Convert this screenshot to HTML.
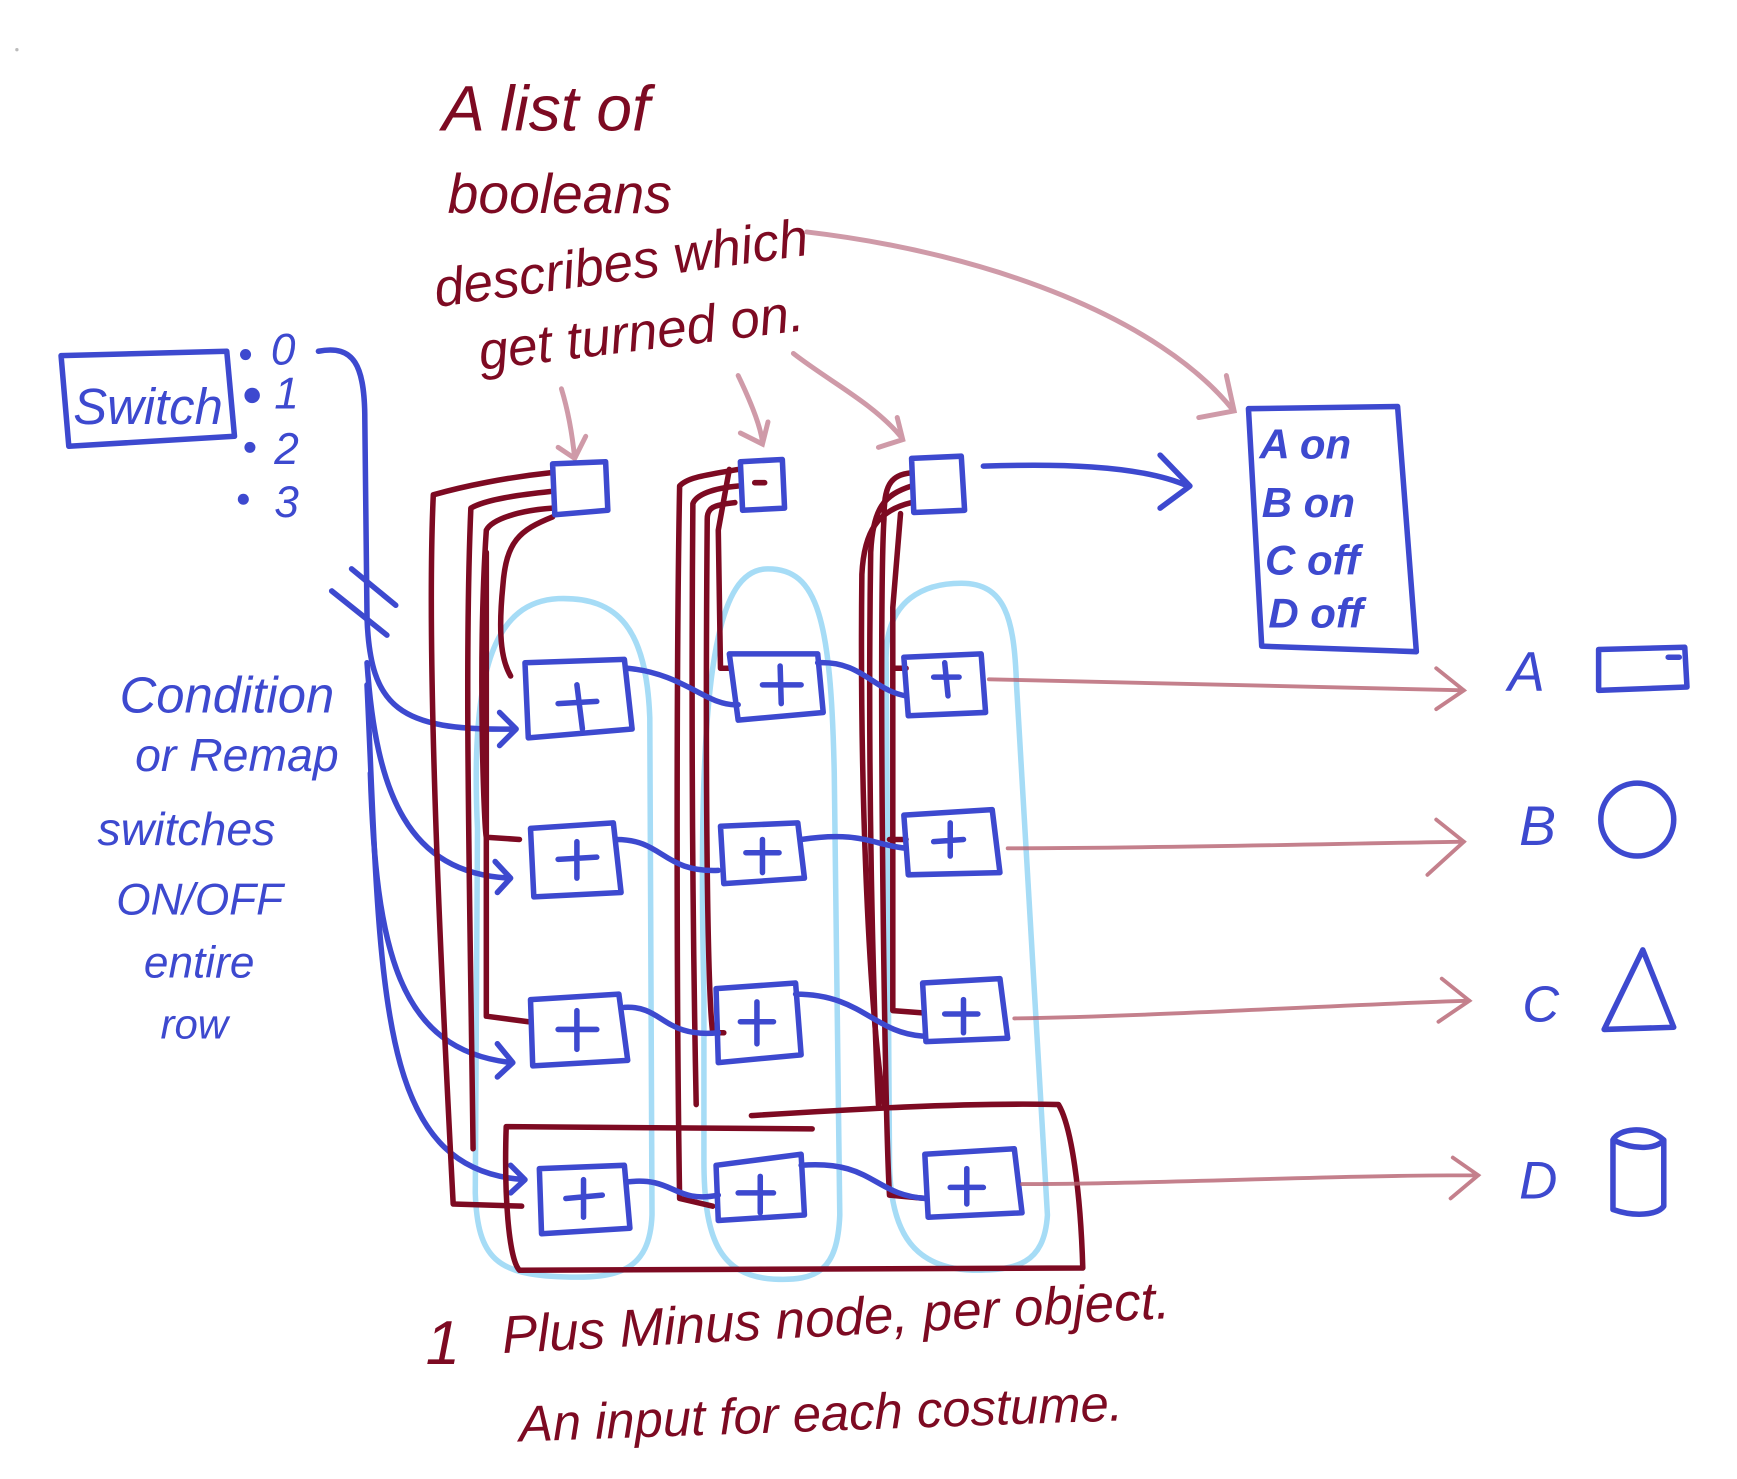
<!DOCTYPE html>
<html><head><meta charset="utf-8"><style>
html,body{margin:0;padding:0;background:#fff;}
svg{display:block}
.b{fill:none;stroke:#3d49cf;stroke-width:5;stroke-linecap:round;stroke-linejoin:round}
.r{fill:none;stroke:#7d0a22;stroke-width:5;stroke-linecap:round;stroke-linejoin:round}
.lb{fill:none;stroke:#a6dcf6;stroke-width:5}
.p{fill:none;stroke:#cf9aa8;stroke-width:4.5;stroke-linecap:round}
.pr{fill:none;stroke:#b5606f;stroke-width:3.5;stroke-linecap:round;opacity:.8}
.tb{fill:#3d49cf;font-family:"Liberation Sans",sans-serif;font-style:italic}
.tr{fill:#7d0a22;font-family:"Liberation Sans",sans-serif;font-style:italic}
</style></head><body>
<svg width="1737" height="1479" viewBox="0 0 1572 1339" xmlns="http://www.w3.org/2000/svg">
<path class="lb" d="M432,750 C425,600 450,545 505,542 C560,540 585,570 588,650 L590,1100 C588,1150 560,1158 510,1156 C450,1154 432,1140 430,1080 Z"/>
<path class="lb" d="M637,900 C630,600 650,515 695,515 C740,515 752,560 755,700 L760,1100 C758,1150 740,1160 700,1158 C650,1155 637,1120 637,1050 Z"/>
<path class="lb" d="M802,600 C800,540 840,528 870,528 C910,528 918,560 920,620 L948,1100 C945,1145 920,1150 880,1150 C830,1148 805,1120 805,1050 Z"/>
<text class="tr" x="400" y="118" font-size="58">A  list of</text>
<text class="tr" x="405" y="193" font-size="50">booleans</text>
<text class="tr" x="395" y="278" font-size="48" transform="rotate(-8 395 278)">describes which</text>
<text class="tr" x="435" y="335" font-size="48" transform="rotate(-7 435 335)">get turned on.</text>
<path class="p" d="M508,352 C515,375 518,395 520,415 M505,405 L520,415 L530,395"/>
<path class="p" d="M668,340 C680,365 688,385 690,400 M670,392 L690,402 L695,382"/>
<path class="p" d="M718,320 C750,345 790,365 815,395 M795,405 L817,398 L812,378"/>
<path class="p" d="M730,210 C900,230 1050,290 1115,370 M1085,378 L1117,372 L1110,340"/>
<path class="b" d="M55,322 L205,318 L212,395 L62,404 Z"/>
<text class="tb" x="66" y="384" font-size="46">Switch</text>
<circle cx="222" cy="321" r="5" fill="#3d49cf"/><circle cx="228" cy="358" r="7" fill="#3d49cf"/>
<circle cx="226" cy="405" r="5" fill="#3d49cf"/><circle cx="220" cy="452" r="5" fill="#3d49cf"/>
<text class="tb" x="245" y="330" font-size="40">0</text>
<text class="tb" x="248" y="370" font-size="40">1</text>
<text class="tb" x="248" y="420" font-size="40">2</text>
<text class="tb" x="248" y="468" font-size="40">3</text>
<path class="b" d="M288,318 C320,312 330,330 330,380 L332,560 C335,640 360,662 465,660 M452,645 L467,660 L452,675"/>
<path class="b" d="M332,600 C340,720 370,790 460,795 M448,780 L462,795 L450,808"/>
<path class="b" d="M335,700 C340,860 360,950 462,962 M450,945 L464,962 L450,975"/>
<path class="b" d="M332,620 C345,900 340,1060 475,1068 M462,1055 L475,1068 L462,1080"/>
<path class="b" d="M300,535 L350,575 M318,515 L358,548"/>
<text class="tb" x="108" y="645" font-size="46">Condition</text>
<text class="tb" x="122" y="698" font-size="42">or Remap</text>
<text class="tb" x="88" y="765" font-size="42">switches</text>
<text class="tb" x="105" y="828" font-size="40">ON/OFF</text>
<text class="tb" x="130" y="885" font-size="40">entire</text>
<text class="tb" x="145" y="940" font-size="38">row</text>
<path class="r" d="M498,428 C460,432 420,440 392,448 C385,600 400,900 410,1090 L472,1092"/>
<path class="r" d="M498,445 C470,448 440,452 426,460 C420,600 425,800 428,1040"/>
<path class="r" d="M500,460 C470,462 445,470 440,480 C432,600 438,750 440,758 L470,760"/>
<path class="r" d="M500,468 C470,480 458,490 455,530 C450,580 455,600 462,612"/>
<path class="r" d="M440,500 L440,920 L478,925"/>
<path class="r" d="M668,425 C640,430 622,432 615,440 C612,600 612,900 615,1085 L645,1092"/>
<path class="r" d="M668,440 C645,442 630,448 627,456 C625,700 628,900 630,1000"/>
<path class="r" d="M665,455 C645,457 640,460 640,470 C638,700 640,900 645,935 L655,935"/>
<path class="r" d="M660,425 L650,480 L652,605 L660,605"/>
<path class="r" d="M825,428 C805,430 800,440 800,470 C795,550 800,1000 805,1082 L838,1085"/>
<path class="r" d="M825,440 C800,448 790,460 788,500 C785,700 790,900 795,1000"/>
<path class="r" d="M825,455 C795,462 782,480 780,520 C778,700 785,900 800,1000"/>
<path class="r" d="M815,465 L808,550 L808,915 L835,917"/>
<path class="r" d="M810,605 L820,605 M805,760 L820,760"/>
<path class="r" d="M458,1020 L735,1022 M680,1010 C760,1005 870,998 958,1000 C970,1020 978,1080 980,1148 L470,1150 C460,1140 456,1080 458,1020"/>
<path class="b" d="M500,420 L548,418 L550,462 L502,466 Z"/>
<path class="b" d="M670,418 L708,416 L710,460 L672,462 Z"/>
<path class="r" d="M683,437 L692,437"/>
<path class="b" d="M825,415 L870,413 L873,462 L827,464 Z"/>
<g class="b">
<path d="M475,600 L565,597 L572,660 L478,668 Z"/><path d="M505,637 L540,635 M522,620 L527,660"/>
<path d="M660,592 L740,592 L745,645 L668,652 Z"/><path d="M690,620 L725,620 M706,603 L707,637"/>
<path d="M818,595 L888,592 L892,645 L822,648 Z"/><path d="M845,613 L868,613 M855,600 L858,630"/>
<path d="M480,750 L555,745 L562,808 L483,812 Z"/><path d="M505,778 L540,776 M522,762 L522,795"/>
<path d="M652,748 L722,745 L728,795 L655,800 Z"/><path d="M675,772 L705,772 M690,760 L690,790"/>
<path d="M818,738 L898,733 L905,790 L822,792 Z"/><path d="M845,762 L872,760 M860,745 L860,775"/>
<path d="M480,905 L560,900 L568,960 L482,965 Z"/><path d="M505,932 L540,932 M522,915 L522,950"/>
<path d="M648,895 L720,890 L725,955 L650,962 Z"/><path d="M670,925 L700,925 M685,907 L685,945"/>
<path d="M835,890 L905,886 L912,940 L838,943 Z"/><path d="M855,918 L885,918 M872,905 L872,935"/>
<path d="M488,1058 L565,1055 L570,1112 L490,1117 Z"/><path d="M512,1085 L545,1082 M528,1068 L528,1102"/>
<path d="M648,1055 L725,1045 L728,1100 L650,1105 Z"/><path d="M668,1080 L700,1080 M688,1065 L688,1098"/>
<path d="M837,1045 L918,1040 L925,1098 L840,1102 Z"/><path d="M860,1075 L890,1075 M875,1058 L875,1090"/>
<path d="M568,605 C620,610 640,640 668,638"/>
<path d="M740,600 C780,598 790,625 820,630"/>
<path d="M558,760 C600,760 600,790 650,788"/>
<path d="M725,760 C780,752 790,765 820,768"/>
<path d="M565,912 C600,910 600,940 650,935"/>
<path d="M720,900 C780,900 790,935 835,938"/>
<path d="M568,1070 C610,1065 610,1090 650,1082"/>
<path d="M725,1055 C790,1050 790,1082 838,1085"/>
</g>
<path class="b" d="M890,422 C950,420 1030,420 1075,440 M1050,412 L1077,440 L1050,460"/>
<path class="b" d="M1130,370 L1265,368 L1282,590 L1142,585 Z"/>
<text class="tb" x="1140" y="415" font-size="38" font-weight="bold">A   on</text>
<text class="tb" x="1142" y="468" font-size="38" font-weight="bold">B   on</text>
<text class="tb" x="1145" y="520" font-size="38" font-weight="bold">C  off</text>
<text class="tb" x="1148" y="568" font-size="38" font-weight="bold">D  off</text>
<path class="pr" d="M895,615 C1050,618 1200,622 1325,625 M1300,605 L1325,625 L1300,642"/>
<path class="pr" d="M912,768 C1050,768 1200,764 1325,762 M1300,742 L1325,762 L1292,792"/>
<path class="pr" d="M918,922 C1050,920 1200,910 1330,906 M1305,886 L1330,906 L1302,925"/>
<path class="pr" d="M925,1072 C1050,1072 1200,1064 1338,1064 M1315,1048 L1338,1064 L1313,1085"/>
<text class="tb" x="1365" y="625" font-size="50">A</text>
<text class="tb" x="1375" y="765" font-size="50">B</text>
<text class="tb" x="1378" y="925" font-size="46">C</text>
<text class="tb" x="1375" y="1085" font-size="48">D</text>
<path class="b" d="M1447,588 L1525,586 L1527,622 L1447,625 Z M1510,595 L1520,595"/>
<circle class="b" cx="1482" cy="742" r="33"/>
<path class="b" d="M1487,860 L1515,930 L1452,932 Z"/>
<path class="b" d="M1460,1032 L1460,1095 C1480,1102 1500,1100 1506,1092 L1506,1032 C1490,1018 1465,1022 1460,1032 M1460,1032 C1480,1042 1500,1040 1506,1032"/>
<text class="tr" x="385" y="1235" font-size="56">1</text>
<text class="tr" x="455" y="1225" font-size="48" transform="rotate(-3 455 1225)">Plus Minus node, per object.</text>
<text class="tr" x="470" y="1305" font-size="46" transform="rotate(-2 470 1305)">An input for each costume.</text>
<circle cx="15" cy="45" r="1.5" fill="#bbb"/>
</svg>
</body></html>
